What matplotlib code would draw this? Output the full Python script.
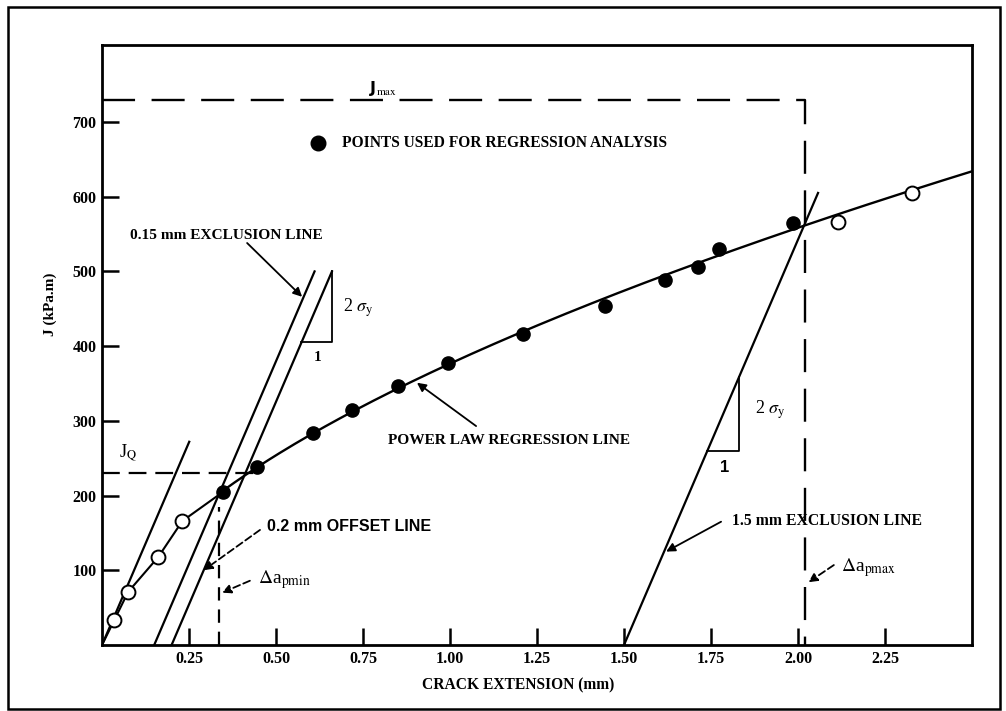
import numpy as np
import matplotlib
matplotlib.use("Agg")
import matplotlib.pyplot as plt
from matplotlib.patches import Rectangle

plt.rcParams['font.family'] = ['Liberation Serif', 'DejaVu Serif']
plt.rcParams['mathtext.fontset'] = 'stix'

# ---------------- data ----------------
filled_x = [0.348, 0.445, 0.606, 0.718, 0.850, 0.994, 1.210, 1.445, 1.618, 1.713, 1.772, 1.986]
filled_J = [205, 238, 284, 315, 346, 378, 416, 454, 489, 506, 530, 565]
open_left_x = [0.035, 0.075, 0.162, 0.231]
open_left_J = [33, 71, 118, 166]
open_right_x = [2.115, 2.328]
open_right_J = [566, 605]
curve_start = (0.0, 0.0)

slope_2sy = 1085.0                 # kPa.m per mm (2 sigma_y)
line_offsets = [0.0, 0.15, 0.20, 1.50]   # blunting, 0.15 excl, 0.2 offset, 1.5 excl
line_top_J = [272, 500, 500, 605]

J_max = 730
da_pmax = 2.02
J_Q = 230
da_pmin = 0.336

x_ticks = [0.25, 0.50, 0.75, 1.00, 1.25, 1.50, 1.75, 2.00, 2.25]
x_tick_labels = ['0.25', '0.50', '0.75', '1.00', '1.25', '1.50', '1.75', '2.00', '2.25']
y_ticks = [100, 200, 300, 400, 500, 600, 700]
y_tick_labels = ['100', '200', '300', '400', '500', '600', '700']

# ---------------- figure ----------------
fig = plt.figure(figsize=(10.06, 7.11), dpi=100)
ax = fig.add_axes([102/1006, 1-645/711, 870/1006, 600/711])
ax.set_xlim(0, 2.5)
ax.set_ylim(0, 803)

# outer frame of the scanned page
fig.add_artist(Rectangle((8/1006, 2/711), 992/1006, 702/711, transform=fig.transFigure,
                         fill=False, lw=1.8, ec='black'))

# power-law regression through filled points
lx = np.log(filled_x)
ly = np.log(filled_J)
n, lnC = np.polyfit(lx, ly, 1)
xr = np.linspace(filled_x[0], 2.5, 200)
ax.plot(xr, np.exp(lnC) * xr**n, color='black', lw=1.7, zorder=3)

# initial curve through open points
cx = [curve_start[0]] + open_left_x + [filled_x[0]]
cy = [curve_start[1]] + open_left_J + [filled_J[0]]
ax.plot(cx, cy, color='black', lw=1.5, zorder=3)

# construction lines with slope 2 sigma_y
for off, top in zip(line_offsets, line_top_J):
    ax.plot([off, off + top/slope_2sy], [0, top], color='black', lw=1.6, zorder=2)

# slope triangles
t1_x = line_offsets[2] + 500/slope_2sy
t1_low = 405
ax.plot([t1_x, t1_x, line_offsets[2] + t1_low/slope_2sy], [500, t1_low, t1_low], color='black', lw=1.3)
t2_top = 359
t2_x = line_offsets[3] + t2_top/slope_2sy
t2_low = 260
ax.plot([t2_x, t2_x, line_offsets[3] + t2_low/slope_2sy], [t2_top, t2_low, t2_low], color='black', lw=1.3)

# dashed construction lines
ax.plot([0, da_pmax, da_pmax], [J_max, J_max, 0], color='black', lw=1.7,
        linestyle=(0, (14, 7)), zorder=2)
ax.plot([0, 0.44], [J_Q, J_Q], color='black', lw=1.6, linestyle=(0, (8, 4)))
ax.plot([da_pmin, da_pmin], [0, 185], color='black', lw=1.6, linestyle=(0, (6, 4)))

# markers
ax.plot(filled_x, filled_J, 'o', ms=9.5, mfc='black', mec='black', zorder=5)
ax.plot(open_left_x + open_right_x, open_left_J + open_right_J, 'o', ms=10,
        mfc='white', mec='black', mew=1.4, zorder=5)

# legend-like entry
ax.plot([0.621], [672], 'o', ms=10.5, mfc='black', mec='black')
ax.text(0.690, 672, 'POINTS USED FOR REGRESSION ANALYSIS', fontsize=11.2, weight='bold',
        ha='left', va='center')

# labels
ax.text(0.807, 745, r'J$_{\mathrm{max}}$', fontsize=11.5, weight='bold', ha='center', va='center',
        family=['DejaVu Sans'])
ax.text(0.075, 257, r'J$_{\mathrm{Q}}$', fontsize=13, ha='center', va='center')
ax.text(0.693, 452, r'2 $\sigma_{\mathrm{y}}$', fontsize=13, ha='left', va='center')
ax.text(0.621, 385, '1', fontsize=11, weight='bold', ha='center', va='center')
ax.text(1.876, 315, r'2 $\sigma_{\mathrm{y}}$', fontsize=13, ha='left', va='center')
ax.text(1.790, 238, '1', fontsize=12, weight='bold', ha='center', va='center',
        family=['Liberation Sans'])

arrow = dict(arrowstyle='-|>', lw=1.3, color='black', mutation_scale=13, shrinkA=0, shrinkB=0)
arrow_d = dict(arrowstyle='-|>', lw=1.3, color='black', mutation_scale=13, shrinkA=0, shrinkB=0,
               linestyle=(0, (4, 2)))

ax.text(0.080, 548, '0.15 mm EXCLUSION LINE', fontsize=11.1, weight='bold', ha='left', va='center')
ax.annotate('', xy=(0.575, 466), xytext=(0.417, 538), arrowprops=arrow)

ax.text(0.822, 274, 'POWER LAW REGRESSION LINE', fontsize=11.1, weight='bold', ha='left', va='center')
ax.annotate('', xy=(0.905, 351), xytext=(1.075, 293), arrowprops=arrow)

ax.text(0.474, 158, '0.2 mm OFFSET LINE', fontsize=11.5, weight='bold', ha='left', va='center',
        family=['Liberation Sans'])
ax.annotate('', xy=(0.292, 100), xytext=(0.454, 154), arrowprops=arrow_d)

ax.text(0.448, 87, r'$\Delta$a$_{\mathrm{pmin}}$', fontsize=14, ha='left', va='center')
ax.annotate('', xy=(0.345, 70), xytext=(0.425, 86), arrowprops=arrow_d)

ax.text(1.810, 166, '1.5 mm EXCLUSION LINE', fontsize=11.3, weight='bold', ha='left', va='center')
ax.annotate('', xy=(1.621, 125), xytext=(1.779, 165), arrowprops=arrow)

ax.text(2.124, 103, r'$\Delta$a$_{\mathrm{pmax}}$', fontsize=14, ha='left', va='center')
ax.annotate('', xy=(2.03, 84), xytext=(2.103, 107), arrowprops=arrow_d)

# axes styling
ax.set_xticks(x_ticks)
ax.set_xticklabels(x_tick_labels)
ax.set_yticks(y_ticks)
ax.set_yticklabels(y_tick_labels)
ax.tick_params(direction='in', length=12, width=1.8, labelsize=11.5, pad=4)
for lab in ax.get_xticklabels() + ax.get_yticklabels():
    lab.set_fontweight('bold')
for s in ax.spines.values():
    s.set_linewidth(2.0)

ax.set_xlabel('CRACK EXTENSION (mm)', fontsize=11.2, weight='bold')
ax.xaxis.label.set_verticalalignment('center')
ax.xaxis.set_label_coords(0.478, -0.067)
ax.set_ylabel('J (kPa.m)', fontsize=11, weight='bold')
ax.yaxis.label.set_verticalalignment('center')
ax.yaxis.set_label_coords(-0.06, 0.567)

fig.savefig('out.png', dpi=100)
